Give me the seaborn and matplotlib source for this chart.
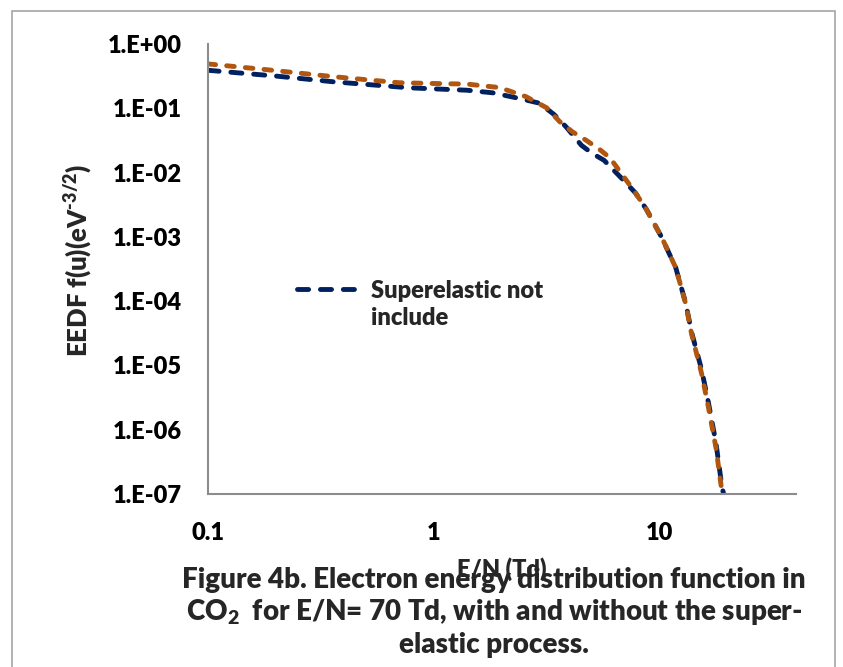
import numpy as np
import pandas as pd
import matplotlib
matplotlib.use("Agg")
import matplotlib.pyplot as plt
import seaborn as sns
from matplotlib.ticker import LogLocator, NullFormatter, FixedLocator, FixedFormatter
from matplotlib.legend_handler import HandlerLine2D
from matplotlib.patches import Rectangle

# ---------------- data ----------------
energy_with = [0.1, 0.18, 0.36, 0.7, 1.0, 1.4, 1.95, 2.55, 3.15, 3.6, 4.1, 4.7,
               5.4, 6.0, 6.6, 7.8, 8.7, 10.2, 11.75, 13.0, 13.8, 15.3, 16.4,
               17.7, 18.8, 19.8]
eedf_with = [0.49, 0.40, 0.31, 0.25, 0.243, 0.238, 0.21, 0.152, 0.102, 0.062,
             0.043, 0.032, 0.023, 0.017, 0.0108, 0.0048, 0.0027, 9.7e-4,
             3.3e-4, 9.1e-5, 3.1e-5, 7.4e-6, 2.2e-6, 5.2e-7, 1.1e-7, 5e-8]

energy_without = [0.1, 0.2, 0.36, 0.78, 1.4, 1.82, 2.39, 2.93, 3.4, 3.85, 4.49,
                  5.0, 5.66, 6.9, 7.8, 8.7, 10.2, 11.75, 13.0, 13.8, 15.3,
                  16.4, 17.7, 18.8, 19.8]
eedf_without = [0.39, 0.317, 0.258, 0.208, 0.191, 0.174, 0.142, 0.12, 0.08,
                0.051, 0.0266, 0.02, 0.0155, 0.0076, 0.0048, 0.0027, 9.7e-4,
                3.3e-4, 9.3e-5, 3.3e-5, 8.5e-6, 2.6e-6, 6.2e-7, 1.3e-7, 6e-8]

series_with = "Superelastic included"
series_without = "Superelastic not\ninclude"

x_ticks = [0.1, 1, 10]
x_tick_labels = ["0.1", "1", "10"]
y_ticks = [1e0, 1e-1, 1e-2, 1e-3, 1e-4, 1e-5, 1e-6, 1e-7]
y_tick_labels = ["1.E+00", "1.E-01", "1.E-02", "1.E-03", "1.E-04",
                 "1.E-05", "1.E-06", "1.E-07"]

x_label = "E/N (Td)"
y_label = "EEDF f(u)(eV$^{\u20103/2}$)"
caption = ["Figure 4b. Electron energy distribution function in",
           "CO$_{2}$  for E/N= 70 Td, with and without the super-",
           "elastic process."]

df = pd.concat([
    pd.DataFrame({"energy": energy_without, "eedf": eedf_without, "series": series_without}),
    pd.DataFrame({"energy": energy_with, "eedf": eedf_with, "series": series_with}),
], ignore_index=True)

# ---------------- style ----------------
WEIGHT = "heavy"
sns.set_style("white")
plt.rcParams["font.family"] = ["Lato", "DejaVu Sans"]
plt.rcParams["font.weight"] = WEIGHT
plt.rcParams["mathtext.fontset"] = "custom"
plt.rcParams["mathtext.rm"] = "Lato:heavy"
plt.rcParams["mathtext.bf"] = "Lato:heavy"
plt.rcParams["mathtext.it"] = "Lato:heavy:italic"
plt.rcParams["lines.scale_dashes"] = False

navy = "#002060"
orange = "#B0560F"
axis_gray = "#8c8c8c"
FS = 17

W, H = 843, 667
fig = plt.figure(figsize=(W / 100, H / 100), dpi=100)
ax = fig.add_axes([208 / W, 1 - 494 / H, (796 - 208) / W, (494 - 44) / H])

sns.lineplot(data=df, x="energy", y="eedf", hue="series", style="series",
             hue_order=[series_without, series_with],
             style_order=[series_without, series_with],
             palette={series_without: navy, series_with: orange},
             dashes={series_without: (8.0, 8.5), series_with: (5.5, 8.0)},
             sort=False, estimator=None, lw=3.5, dash_capstyle="round",
             legend=False, ax=ax)

ax.set_xscale("log")
ax.set_yscale("log")
ax.set_xlim(0.1, 40)
ax.set_ylim(1e-7, 1)

ax.xaxis.set_major_locator(FixedLocator(x_ticks))
ax.xaxis.set_major_formatter(FixedFormatter(x_tick_labels))
ax.yaxis.set_major_locator(FixedLocator(y_ticks))
ax.yaxis.set_major_formatter(FixedFormatter(y_tick_labels))
ax.xaxis.set_minor_locator(LogLocator(base=10, subs=np.arange(2, 10), numticks=100))
ax.yaxis.set_minor_locator(LogLocator(base=10, subs=np.arange(2, 10), numticks=100))
ax.xaxis.set_minor_formatter(NullFormatter())
ax.yaxis.set_minor_formatter(NullFormatter())

for s in ["top", "right"]:
    ax.spines[s].set_visible(False)
for s in ["left", "bottom"]:
    ax.spines[s].set_color(axis_gray)
    ax.spines[s].set_linewidth(1.5)

ax.tick_params(axis="both", which="major", direction="in", length=8, width=1.3,
               color=axis_gray, labelsize=FS, labelcolor="black")
ax.tick_params(axis="both", which="minor", direction="in", length=6, width=1.1,
               color=axis_gray)
ax.tick_params(axis="y", which="major", pad=19)
ax.tick_params(axis="x", which="major", pad=20)
for lab in ax.get_xticklabels() + ax.get_yticklabels():
    lab.set_fontweight(WEIGHT)

ax.set_xlabel(x_label, fontsize=FS, fontweight=WEIGHT)
ax.set_ylabel(y_label, fontsize=18.5, fontweight=WEIGHT)
ax.xaxis.set_label_coords(0.5, -0.14)
ax.yaxis.set_label_coords(-0.221, 0.52)
ax.yaxis.label.set_va("center")
ax.xaxis.label.set_va("top")


class RaisedLine(HandlerLine2D):
    def create_artists(self, legend, orig_handle, xdescent, ydescent, width,
                       height, fontsize, trans):
        arts = super().create_artists(legend, orig_handle, xdescent, ydescent,
                                      width, height, fontsize, trans)
        for a in arts:
            yd = np.asarray(a.get_ydata(), dtype=float)
            a.set_ydata(yd + 0.68 * fontsize)
        return arts


navy_line = ax.lines[0]
leg = ax.legend([navy_line], [series_without], loc="upper left",
                bbox_to_anchor=((297 - 208) / 588, (494 - 280) / 450),
                frameon=False, fontsize=FS, handlelength=2.75,
                handletextpad=0.4, borderpad=0, borderaxespad=0,
                handler_map={navy_line: RaisedLine()})
for t in leg.get_texts():
    t.set_fontweight(WEIGHT)
    t.set_linespacing(1.3)

ys = [1 - 580 / H, 1 - 612 / H, 1 - 645 / H]
for line, y in zip(caption, ys):
    fig.text(494 / W, y, line, ha="center", va="center", fontsize=20,
             fontweight=WEIGHT)

fig.patches.append(Rectangle((12 / W, -0.05), (835 - 12) / W, 1.05 - 11 / H,
                             transform=fig.transFigure, fill=False,
                             ec="#a6a6a6", lw=1.2))

fig.savefig("out.png", dpi=100)
